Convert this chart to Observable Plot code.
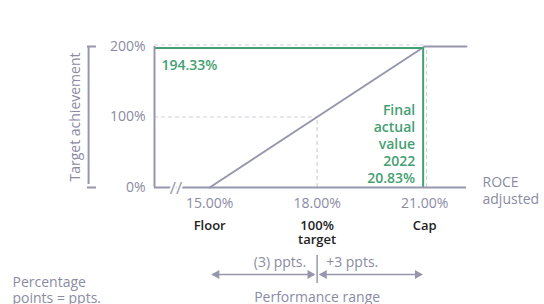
<!DOCTYPE html>
<html>
<head>
<meta charset="utf-8">
<script src="https://cdn.jsdelivr.net/npm/d3@7"></script>
<script src="https://cdn.jsdelivr.net/npm/@observablehq/plot@0.6"></script>
<style>
  html, body { margin: 0; padding: 0; background: #fff; }
  #chart { width: 544px; height: 304px; overflow: hidden; }
</style>
</head>
<body>
<div id="chart"></div>
<script>
// ---- data ----
const xTicks = [15, 18, 21];
const xTickLabels = ["15.00%", "18.00%", "21.00%"];
const xRoleLabels = ["Floor", "100%\ntarget", "Cap"];
const yTicks = [0, 100, 200];
const yTickLabels = ["0%", "100%", "200%"];
const axisStart = 13.46;          // left end of the (broken) ROCE axis
const axisEnd = 22.17;            // right end of the ROCE axis
const curveX = [15, 21, 22.17];   // target-achievement curve
const curveY = [0, 200, 200];
const actualX = 20.96;            // green marker as drawn
const actualY = 198;
const payoutLabel = "194.33%";
const actualLabel = "Final\nactual\nvalue\n2022\n20.83%";
const rangeFrom = [15, 18];
const rangeTo = [18, 21];
const rangeLabels = ["(3) ppts.", "+3 ppts."];
const yTitle = "Target achievement";
const xTitle = "ROCE\nadjusted";
const rangeTitle = "Performance range";
const footnote = "Percentage\npoints = ppts.";

// ---- styles ----
const lineGray = "#9697ad";
const textGray = "#8a8ba3";
const dashGray = "#cfd0da";
const green = "#44a072";
const font = "Open Sans";

const curve = curveX.map((x, i) => ({x, y: curveY[i]}));
const ranges = rangeFrom.map((f, i) => ({from: f, to: rangeTo[i], label: rangeLabels[i]}));

const chart = Plot.plot({
  width: 544,
  height: 304,
  x: {domain: [axisStart, axisEnd], range: [154, 466], axis: null},
  y: {domain: [0, 200], range: [187, 46], axis: null},
  style: {fontFamily: font, background: "white", overflow: "visible"},
  marks: [
    // dashed guides
    Plot.ruleY([100], {x1: axisStart, x2: 18, stroke: dashGray, strokeWidth: 1.2, strokeDasharray: "4,3"}),
    Plot.ruleX([18], {y1: 0, y2: 100, stroke: dashGray, strokeWidth: 1.2, strokeDasharray: "4,3"}),
    Plot.ruleY([200], {x1: axisStart, x2: 21, stroke: dashGray, strokeWidth: 1.2, strokeDasharray: "4,3", dy: -1.5}),
    Plot.ruleX([21], {y1: 0, y2: 200, stroke: dashGray, strokeWidth: 1.2, strokeDasharray: "4,3", dx: 2}),
    // curve
    Plot.line(curve, {x: "x", y: "y", stroke: lineGray, strokeWidth: 2}),
    // green actual value
    Plot.ruleY([actualY], {x1: axisStart, x2: actualX, stroke: green, strokeWidth: 2}),
    Plot.ruleX([actualX], {y1: 0, y2: actualY, stroke: green, strokeWidth: 2}),
    // axes
    Plot.ruleY([0], {x1: axisStart, x2: axisEnd, stroke: lineGray, strokeWidth: 2}),
    Plot.ruleX([axisStart], {y1: 0, y2: 200, stroke: lineGray, strokeWidth: 2}),
    // axis break
    Plot.text(["//"], {x: axisStart + 0.6, y: 0, text: d => d, fontSize: 17, fill: lineGray,
      stroke: "white", strokeWidth: 4, paintOrder: "stroke", dy: 1}),
    // y tick labels
    Plot.text(yTicks, {x: axisStart, y: d => d, text: (d, i) => yTickLabels[i], textAnchor: "end",
      dx: -9, fontSize: 14, fill: textGray}),
    // y title bracket
    Plot.ruleX([axisStart - 1.84], {y1: 0, y2: 200, stroke: lineGray, strokeWidth: 2, insetTop: -3}),
    Plot.ruleY([0, 200], {x1: axisStart - 1.87, x2: axisStart - 1.62, stroke: lineGray, strokeWidth: 2}),
    Plot.text([yTitle], {x: axisStart, y: 100, text: d => d, rotate: -90, dx: -79, fontSize: 14, fill: textGray}),
    // x tick labels
    Plot.text(xTicks, {x: d => d, y: 0, text: (d, i) => xTickLabels[i], dy: 16, fontSize: 14, fill: textGray}),
    Plot.text(xTicks, {x: d => d, y: 0, text: (d, i) => xRoleLabels[i], dy: 32, lineAnchor: "top",
      lineHeight: 1.12, fontSize: 13, fontWeight: 600, fill: "#222"}),
    // x title
    Plot.text([xTitle], {x: axisEnd, y: 0, text: d => d, textAnchor: "start", dx: 16, dy: 3, lineAnchor: "middle",
      lineHeight: 1.2, fontSize: 14, fill: textGray}),
    // green labels
    Plot.text([payoutLabel], {x: axisStart, y: actualY, text: d => d, textAnchor: "start", dx: 7, dy: 18,
      fontSize: 14, fontWeight: 600, fill: green}),
    Plot.text([actualLabel], {x: actualX, y: 0, text: d => d, textAnchor: "end", lineAnchor: "bottom",
      dx: -8, dy: -5, lineHeight: 1.2, fontSize: 14, fontWeight: 600, fill: green}),
    // performance range arrows
    Plot.ruleY(ranges, {x1: "from", x2: "to", y: 0, dy: 87, insetLeft: 3, insetRight: 3, stroke: lineGray, strokeWidth: 1.5}),
    Plot.dot(ranges, {x: "from", y: 0, dy: 87, dx: 7, symbol: "triangle", rotate: -90, r: 3.4, fill: lineGray, stroke: "none"}),
    Plot.dot(ranges, {x: "to", y: 0, dy: 87, dx: -7, symbol: "triangle", rotate: 90, r: 3.4, fill: lineGray, stroke: "none"}),
    Plot.ruleX([18], {y1: -96.5, y2: -136, stroke: lineGray, strokeWidth: 1.5}),
    Plot.text(ranges.slice(0, 1), {x: "to", y: 0, text: "label", textAnchor: "end", dx: -11, dy: 75, fontSize: 14, fill: textGray}),
    Plot.text(ranges.slice(1), {x: "from", y: 0, text: "label", textAnchor: "start", dx: 9, dy: 75, fontSize: 14, fill: textGray}),
    Plot.text([rangeTitle], {x: 18, y: 0, text: d => d, dy: 110, fontSize: 14, fill: textGray}),
    Plot.text([footnote], {x: axisStart, y: 0, text: d => d, textAnchor: "start", dx: -142, dy: 88, lineAnchor: "top",
      lineHeight: 1.15, fontSize: 14, fill: textGray})
  ]
});
document.getElementById("chart").appendChild(chart);
</script>
</body>
</html>
